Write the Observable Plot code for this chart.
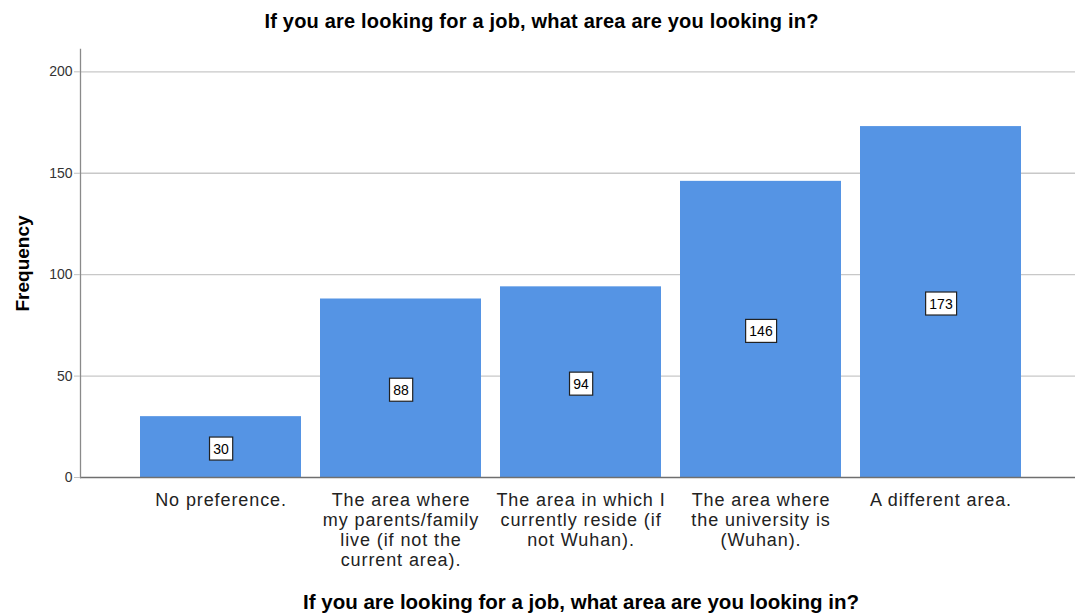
<!DOCTYPE html>
<html>
<head>
<meta charset="utf-8">
<script src="https://cdn.jsdelivr.net/npm/d3@7"></script>
<script src="https://cdn.jsdelivr.net/npm/@observablehq/plot@0.6"></script>
<style>
  body { margin: 0; background: #fff; font-family: "Liberation Sans", Arial, sans-serif; }
  #title {
    height: 40px; line-height: 43px; text-align: center; white-space: nowrap;
    font-size: 20px; font-weight: bold; letter-spacing: 0.2px; color: #000;
  }
  .chart g[aria-label="x-axis tick label"] text { letter-spacing: 0.9px; }
</style>
</head>
<body>
<div id="title"></div>
<div id="chart"></div>
<script>
// Survey answers and their counts
const categories = [
  "No preference.",
  "The area where my parents/family live (if not the current area).",
  "The area in which I currently reside (if not Wuhan).",
  "The area where the university is (Wuhan).",
  "A different area."
];
const frequencies = [30, 88, 94, 146, 173];
// Wrapped versions of the answers, as shown under each bar
const tickLabels = [
  "No preference.",
  "The area where\nmy parents/family\nlive (if not the\ncurrent area).",
  "The area in which I\ncurrently reside (if\nnot Wuhan).",
  "The area where\nthe university is\n(Wuhan).",
  "A different area."
];
const yTicks = [0, 50, 100, 150, 200];
const chartTitle = "If you are looking for a job, what area are you looking in?";
const yLabel = "Frequency";

document.getElementById("title").textContent = chartTitle;

const rows = categories.map((c, i) => ({category: c, frequency: frequencies[i]}));
const labelOf = new Map(categories.map((c, i) => [c, tickLabels[i]]));

const plot = Plot.plot({
  width: 1083,
  height: 574,
  marginLeft: 80,
  marginRight: 8,
  marginTop: 9,
  marginBottom: 137,
  className: "chart",
  style: {fontFamily: "'Liberation Sans', Arial, sans-serif", background: "#fff", overflow: "visible"},
  x: {domain: categories, paddingInner: 0.105, paddingOuter: 0.316, align: 0.527},
  y: {domain: [0, 211]},
  marks: [
    Plot.gridY(yTicks.filter(t => t > 0), {stroke: "#c8c8c8", strokeOpacity: 1, strokeWidth: 1.3}),
    Plot.barY(rows, {x: "category", y: "frequency", fill: "#5594e4"}),
    Plot.ruleY([0], {stroke: "#6f6f6f", strokeWidth: 1.3}),
    Plot.frame({anchor: "left", stroke: "#8a8a8a", strokeWidth: 1.3}),
    Plot.axisY(yTicks, {tickSize: 6, tickPadding: 2, stroke: "#c0c0c0", fontSize: 14, fill: "#333", label: null}),
    Plot.axisX({tickSize: 0, tickPadding: 14, fontSize: 18, lineHeight: 1.11, fill: "#222",
                tickFormat: d => labelOf.get(d), label: null}),
    Plot.text([yLabel], {frameAnchor: "left", textAnchor: "middle", dx: -58, rotate: -90,
                         fontSize: 19, fontWeight: "bold", fill: "#000"}),
    Plot.text([chartTitle], {frameAnchor: "bottom", dx: 3, dy: 131, fontSize: 20.5, fontWeight: "bold", fill: "#000"}),
    Plot.text(rows, {x: "category", y: d => d.frequency / 2, text: "frequency", fontSize: 14, dy: 2, fill: "#000"})
  ]
});

document.getElementById("chart").append(plot);

// Boxed value labels: put a white, outlined rectangle behind each count
const textGroups = plot.querySelectorAll('g[aria-label="text"]');
const valueGroup = textGroups[textGroups.length - 1];
valueGroup.querySelectorAll("text").forEach(t => {
  const b = t.getBBox();
  const r = document.createElementNS("http://www.w3.org/2000/svg", "rect");
  r.setAttribute("x", b.x - 3.7);
  r.setAttribute("y", b.y - 3.5);
  r.setAttribute("width", b.width + 7.4);
  r.setAttribute("height", b.height + 7);
  r.setAttribute("fill", "#fff");
  r.setAttribute("stroke", "#222");
  r.setAttribute("stroke-width", 1.2);
  const tr = t.getAttribute("transform");
  if (tr) r.setAttribute("transform", tr);
  t.parentNode.insertBefore(r, t);
});
</script>
</body>
</html>
